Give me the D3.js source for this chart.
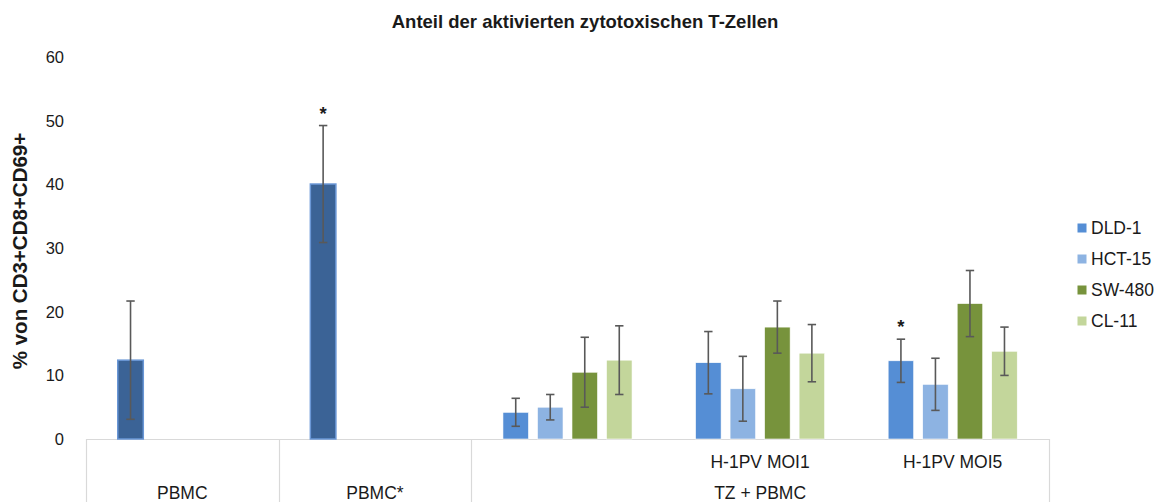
<!DOCTYPE html>
<html>
<head>
<meta charset="utf-8">
<script src="https://cdn.jsdelivr.net/npm/d3@7"></script>
<style>
  html, body { margin: 0; padding: 0; background: #fff; }
  svg { display: block; font-family: "Liberation Sans", Arial, sans-serif; }
</style>
</head>
<body>
<svg id="chart" width="1164" height="502"></svg>
<script>
// Categories on the x axis (two-level: sub label + group label)
const categories = ["PBMC", "PBMC*", "TZ + PBMC", "H-1PV MOI1", "H-1PV MOI5"];
const subLabels = ["", "", "", "H-1PV MOI1", "H-1PV MOI5"];
const groupLabels = ["PBMC", "PBMC*", "TZ + PBMC"];
const groupSpans = [[0, 0], [1, 1], [2, 4]];

// Cell lines (legend series)
const series = ["DLD-1", "HCT-15", "SW-480", "CL-11"];
const seriesColors = ["#558ED5", "#8DB3E2", "#77933C", "#C3D69B"];

// PBMC-only controls (drawn in the first slot, no legend entry)
const pbmcValues = [12.4, 40.1, null, null, null];
const pbmcErrors = [9.3, 9.2, null, null, null];

// Mean % of CD3+CD8+CD69+ per cell line and condition
const dld1Values = [null, null, 4.2, 12.0, 12.3];
const hct15Values = [null, null, 5.0, 7.9, 8.6];
const sw480Values = [null, null, 10.5, 17.6, 21.3];
const cl11Values = [null, null, 12.4, 13.5, 13.8];

// Error (± SD)
const dld1Errors = [null, null, 2.2, 4.9, 3.4];
const hct15Errors = [null, null, 2.0, 5.1, 4.1];
const sw480Errors = [null, null, 5.5, 4.1, 5.2];
const cl11Errors = [null, null, 5.4, 4.5, 3.8];

// Significance markers: [category, series] (null series = PBMC control)
const significant = [["PBMC*", null], ["H-1PV MOI5", "DLD-1"]];

const yTicks = [0, 10, 20, 30, 40, 50, 60];

const title = "Anteil der aktivierten zytotoxischen T-Zellen";
const yTitle = "% von CD3+CD8+CD69+";

const seriesValues = [dld1Values, hct15Values, sw480Values, cl11Values];
const seriesErrors = [dld1Errors, hct15Errors, sw480Errors, cl11Errors];

const svg = d3.select("#chart");
const W = 1164, H = 502;
svg.append("rect").attr("width", W).attr("height", H).attr("fill", "#fff");

const plotLeft = 86, plotRight = 1049, plotTop = 57.5, plotBottom = 439;

const x = d3.scaleBand().domain(categories).range([plotLeft, plotRight]).padding(0);
const xs = d3.scaleBand().domain(series).range([0, x.bandwidth()])
  .paddingInner(0.26).paddingOuter(0.92);
const y = d3.scaleLinear().domain([0, 60]).range([plotBottom, plotTop]);

const textColor = "#1a1a1a";
const axisColor = "#d9d9d9";
const errColor = "#595959";

// Title
svg.append("text")
  .attr("x", 585).attr("y", 28)
  .attr("text-anchor", "middle")
  .attr("font-size", 18.5).attr("font-weight", "bold").attr("fill", textColor)
  .text(title);

// Y axis tick labels (no axis line)
const yAxis = d3.axisLeft(y).tickValues(yTicks).tickSize(0).tickPadding(0);
const yg = svg.append("g").attr("transform", "translate(64,0)").call(yAxis);
yg.select(".domain").remove();
yg.selectAll("text")
  .attr("font-size", 16.5).attr("fill", textColor)
  .attr("font-family", "Liberation Sans, Arial, sans-serif");

// Y axis title
svg.append("text")
  .attr("transform", `translate(27,251) rotate(-90)`)
  .attr("text-anchor", "middle")
  .attr("font-size", 20.5).attr("font-weight", "bold").attr("fill", textColor)
  .text(yTitle);

// Category axis: baseline and group separators
svg.append("line")
  .attr("x1", plotLeft).attr("x2", plotRight)
  .attr("y1", plotBottom + 0.5).attr("y2", plotBottom + 0.5)
  .attr("stroke", axisColor).attr("stroke-width", 1.2);

const sepX = [x(categories[0])].concat(groupSpans.map(s => x(categories[s[1]]) + x.bandwidth()));
svg.selectAll(".sep").data(sepX).enter().append("line")
  .attr("x1", d => Math.round(d) + 0.5).attr("x2", d => Math.round(d) + 0.5)
  .attr("y1", plotBottom).attr("y2", H)
  .attr("stroke", axisColor).attr("stroke-width", 1.2);

// Sub-level labels
svg.selectAll(".sub").data(categories.filter((c, i) => subLabels[i])).enter().append("text")
  .attr("x", d => x(d) + x.bandwidth() / 2)
  .attr("y", 468)
  .attr("text-anchor", "middle")
  .attr("font-size", 17.5).attr("fill", textColor)
  .text((d) => subLabels[categories.indexOf(d)]);

// Group-level labels
svg.selectAll(".grp").data(groupLabels).enter().append("text")
  .attr("x", (d, i) => {
    const s = groupSpans[i];
    return (x(categories[s[0]]) + x(categories[s[1]]) + x.bandwidth()) / 2;
  })
  .attr("y", 499)
  .attr("text-anchor", "middle")
  .attr("font-size", 17.5).attr("fill", textColor)
  .text(d => d);

// Helper for error bars
function drawError(g, cx, v, e) {
  const capW = 4.2;
  const yt = y(v + e), yb = y(v - e);
  g.append("line").attr("x1", cx).attr("x2", cx).attr("y1", yt).attr("y2", yb)
    .attr("stroke", errColor).attr("stroke-width", 1.6);
  [yt, yb].forEach(yy => {
    g.append("line").attr("x1", cx - capW).attr("x2", cx + capW).attr("y1", yy).attr("y2", yy)
      .attr("stroke", errColor).attr("stroke-width", 1.6);
  });
}

const bars = svg.append("g");
const errs = svg.append("g");

// PBMC control bars (first slot)
categories.forEach((c, i) => {
  const v = pbmcValues[i];
  if (v == null) return;
  const x0 = x(c) + xs(series[0]);
  bars.append("rect")
    .attr("x", x0).attr("y", y(v))
    .attr("width", xs.bandwidth()).attr("height", y(0) - y(v))
    .attr("fill", "#3B6396").attr("stroke", "#6a97d6").attr("stroke-width", 1.5);
  drawError(errs, x0 + xs.bandwidth() / 2, v, pbmcErrors[i]);
});

// Cell line bars
series.forEach((s, si) => {
  categories.forEach((c, i) => {
    const v = seriesValues[si][i];
    if (v == null) return;
    const x0 = x(c) + xs(s);
    bars.append("rect")
      .attr("x", x0).attr("y", y(v))
      .attr("width", xs.bandwidth()).attr("height", y(0) - y(v))
      .attr("fill", seriesColors[si]).attr("stroke", "#ffffff").attr("stroke-width", 0.6);
    drawError(errs, x0 + xs.bandwidth() / 2, v, seriesErrors[si][i]);
  });
});

// Significance asterisks above the error bars
significant.forEach(([c, s]) => {
  const i = categories.indexOf(c);
  let v, e, cx;
  if (s == null) {
    v = pbmcValues[i]; e = pbmcErrors[i];
    cx = x(c) + xs(series[0]) + xs.bandwidth() / 2;
  } else {
    const si = series.indexOf(s);
    v = seriesValues[si][i]; e = seriesErrors[si][i];
    cx = x(c) + xs(s) + xs.bandwidth() / 2;
  }
  svg.append("text")
    .attr("x", cx).attr("y", y(v + e) - 6)
    .attr("text-anchor", "middle")
    .attr("font-size", 18.5).attr("font-weight", "bold").attr("fill", textColor)
    .text("*");
});

// Legend
const legend = svg.append("g");
series.forEach((s, i) => {
  const cy = 228 + i * 31;
  legend.append("rect")
    .attr("x", 1077.5).attr("y", cy - 4.5).attr("width", 9).attr("height", 9)
    .attr("fill", seriesColors[i]);
  legend.append("text")
    .attr("x", 1091).attr("y", cy + 6)
    .attr("font-size", 17.5).attr("fill", textColor)
    .text(s);
});
</script>
</body>
</html>
